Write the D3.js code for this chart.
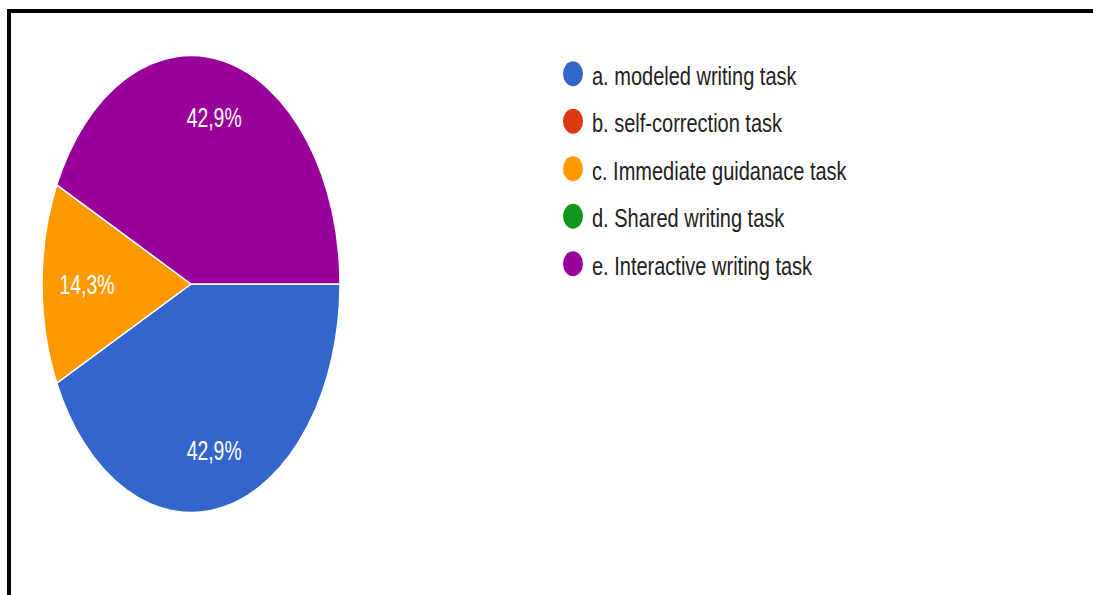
<!DOCTYPE html>
<html>
<head>
<meta charset="utf-8">
<script src="https://cdn.jsdelivr.net/npm/d3@7"></script>
<style>
  html, body { margin: 0; padding: 0; background: #fff; }
  svg { display: block; }
</style>
</head>
<body>
<svg id="chart" width="1093" height="595"></svg>
<script>
// Task types and their share of responses (percent)
const categories = [
  "a. modeled writing task",
  "b. self-correction task",
  "c. Immediate guidanace task",
  "d. Shared writing task",
  "e. Interactive writing task"
];
const values = [42.9, 0, 14.3, 0, 42.9];
const colors = ["#3366CC", "#DC3912", "#FF9900", "#109618", "#990099"];

const svg = d3.select("#chart");
const fontFamily = "'Liberation Sans', Arial, sans-serif";

// Frame: top and left black rules
svg.append("line").attr("x1", 7).attr("x2", 1093).attr("y1", 11).attr("y2", 11)
  .attr("stroke", "#000").attr("stroke-width", 4);
svg.append("line").attr("x1", 9).attr("x2", 9).attr("y1", 9).attr("y2", 595)
  .attr("stroke", "#000").attr("stroke-width", 4);

// Pie (drawn as a circle, stretched vertically into an ellipse)
const cx = 191, cy = 284, rx = 149, ry = 228.5;
const pie = d3.pie().sort(null).value(d => d).startAngle(Math.PI / 2).endAngle(Math.PI / 2 + 2 * Math.PI);
const arcs = pie(values);
const arc = d3.arc().innerRadius(0).outerRadius(rx);

const pieG = svg.append("g")
  .attr("transform", `translate(${cx},${cy}) scale(1,${ry / rx})`);

pieG.selectAll("path")
  .data(arcs.filter(d => d.value > 0))
  .join("path")
  .attr("d", arc)
  .attr("fill", d => colors[d.index])
  .attr("stroke", "#fff")
  .attr("stroke-width", 1.5)
  .attr("vector-effect", "non-scaling-stroke");

// Percentage labels inside slices
const labelRx = 104, labelRy = 171;
const fmt = v => v.toFixed(1).replace(".", ",") + "%";
svg.selectAll("g.slice-label")
  .data(arcs.filter(d => d.value > 0))
  .join("g")
  .attr("class", "slice-label")
  .attr("transform", d => {
    const a = (d.startAngle + d.endAngle) / 2;
    const x = cx + labelRx * Math.sin(a);
    const y = cy - labelRy * Math.cos(a);
    return `translate(${x},${y}) scale(1,1.44)`;
  })
  .append("text")
  .attr("text-anchor", "middle")
  .attr("dy", "0.35em")
  .attr("fill", "#fff")
  .attr("font-family", fontFamily)
  .attr("font-size", 19.4)
  .text(d => fmt(d.value));

// Legend
const legendY = d3.scaleBand().domain(categories).range([50, 287.5]);
const legend = svg.append("g");
const rows = legend.selectAll("g")
  .data(categories)
  .join("g")
  .attr("transform", d => `translate(573,${legendY(d) + legendY.bandwidth() / 2})`);

rows.append("ellipse")
  .attr("rx", 10).attr("ry", 12.5)
  .attr("fill", (d, i) => colors[i]);

rows.append("g")
  .attr("transform", "translate(19,11) scale(1,1.28)")
  .append("text")
  .attr("font-family", fontFamily)
  .attr("font-size", 20)
  .attr("fill", "#222")
  .text(d => d);
</script>
</body>
</html>
